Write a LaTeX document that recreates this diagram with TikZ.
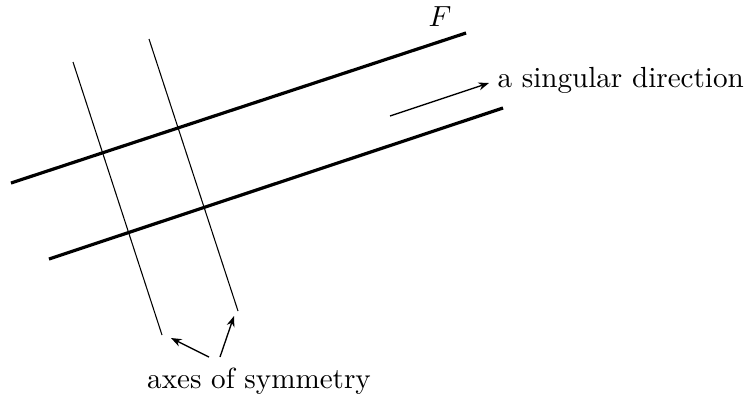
\documentclass[tikz,border=0pt]{standalone}
\usetikzlibrary{arrows.meta}
\begin{document}
\begin{tikzpicture}[x=0.376pt,y=-0.376pt,
  every node/.style={font=\fontsize{10.95}{13}\selectfont},
  fiber/.style={line width=1.2pt},
  axis/.style={line width=0.4pt},
  pointer/.style={line width=0.5pt,-{Stealth[length=4pt,width=3pt]}}]
\useasboundingbox (0,0) rectangle (744,397);
\coordinate (u1) at (11,183); \coordinate (u2) at (466,33);
\coordinate (l1) at (49,259); \coordinate (l2) at (503,108);
\coordinate (a1) at (73,62); \coordinate (a2) at (162,335);
\coordinate (b1) at (149,39); \coordinate (b2) at (238,311);
\draw[fiber] (u1) -- (u2);
\draw[fiber] (l1) -- (l2);
\draw[axis] (a1) -- (a2);
\draw[axis] (b1) -- (b2);
\node (F) at (440,17) {$F$};
\coordinate (s1) at (390,116); \coordinate (s2) at (489,83);
\draw[pointer] (s1) -- (s2);
\node[anchor=west,inner sep=0pt] (sd) at (497,80) {a singular direction};
\node (ax) at (259,381) {axes of symmetry};
\coordinate (p0) at (209,357); \coordinate (p1) at (171,338);
\coordinate (q0) at (220,357); \coordinate (q1) at (234,316);
\draw[pointer] (p0) -- (p1);
\draw[pointer] (q0) -- (q1);
\end{tikzpicture}
\end{document}
